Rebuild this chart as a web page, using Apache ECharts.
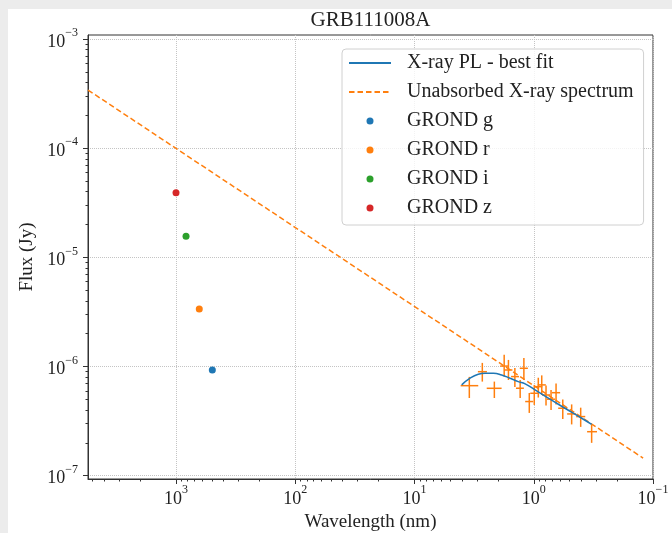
<!DOCTYPE html>
<html>
<head>
<meta charset="utf-8">
<script src="https://cdn.jsdelivr.net/npm/echarts@6/dist/echarts.min.js"></script>
<style>
  html, body { margin: 0; padding: 0; background: #ececec; }
  #chart { position: absolute; left: 8px; top: 9px; width: 664px; height: 524px; background: #fff; }
</style>
</head>
<body>
<div id="chart"></div>
<script>
// ---- data ----
// X-ray spectrum points (wavelength in nm, flux in Jy) with error ranges
const xrayWave   = [3.47, 2.70, 2.14, 1.77, 1.63, 1.44, 1.30, 1.21, 1.09, 0.99, 0.916, 0.857, 0.789, 0.716, 0.650, 0.571, 0.481, 0.404, 0.327];
const xrayWaveLo = [2.92, 2.47, 1.86, 1.63, 1.51, 1.33, 1.21, 1.12, 1.01, 0.914, 0.847, 0.792, 0.730, 0.662, 0.601, 0.524, 0.441, 0.370, 0.295];
const xrayWaveHi = [4.10, 2.94, 2.48, 1.91, 1.77, 1.55, 1.41, 1.31, 1.18, 1.07, 0.991, 0.927, 0.853, 0.774, 0.703, 0.624, 0.525, 0.441, 0.357];
const xrayFlux   = [6.68e-7, 8.97e-7, 6.32e-7, 1.01e-6, 9.30e-7, 8.09e-7, 6.33e-7, 9.64e-7, 4.78e-7, 5.69e-7, 6.54e-7, 6.79e-7, 5.49e-7, 5.02e-7, 5.76e-7, 4.15e-7, 3.68e-7, 3.48e-7, 2.53e-7];
const xrayFluxLo = [5.15e-7, 7.28e-7, 5.15e-7, 8.09e-7, 7.53e-7, 6.50e-7, 5.15e-7, 7.53e-7, 3.76e-7, 4.45e-7, 5.20e-7, 5.50e-7, 4.40e-7, 4.00e-7, 4.50e-7, 3.30e-7, 2.95e-7, 2.80e-7, 2.00e-7];
const xrayFluxHi = [8.04e-7, 1.08e-6, 7.28e-7, 1.28e-6, 1.15e-6, 9.70e-7, 7.53e-7, 1.20e-6, 5.73e-7, 6.79e-7, 7.90e-7, 8.30e-7, 6.70e-7, 6.10e-7, 7.00e-7, 5.00e-7, 4.50e-7, 4.20e-7, 2.92e-7];

// absorbed power law best fit (blue curve)
const fitWave = [4.02, 3.42, 2.92, 2.56, 2.18, 1.86, 1.58, 1.35, 1.18, 0.975, 0.755, 0.547, 0.396, 0.327];
const fitFlux = [6.79e-7, 7.82e-7, 8.50e-7, 8.68e-7, 8.68e-7, 8.38e-7, 7.82e-7, 7.28e-7, 6.93e-7, 6.11e-7, 5.13e-7, 4.15e-7, 3.36e-7, 2.95e-7];

// unabsorbed spectrum (straight in log-log, two end points)
const pwlWave = [5470, 0.121];
const pwlFlux = [3.41e-4, 1.45e-7];

// GROND photometry
const grondBands = ['g', 'r', 'i', 'z'];
const grondWave  = [496, 638, 824, 1000];
const grondFlux  = [9.31e-7, 3.37e-6, 1.56e-5, 3.91e-5];
const grondColors = ['#1f77b4', '#ff7f0e', '#2ca02c', '#d62728'];

// axes
const xMin = 0.1, xMax = 5470;
const yMin = 9.33e-8, yMax = 1.089e-3;
const xMajor = [0.1, 1, 10, 100, 1000];
const yMajor = [1e-7, 1e-6, 1e-5, 1e-4, 1e-3];

function minorTicks(lo, hi) {
  const out = [];
  for (let e = Math.floor(Math.log10(lo)); e <= Math.ceil(Math.log10(hi)); e++) {
    for (let m = 2; m <= 9; m++) {
      const v = m * Math.pow(10, e);
      if (v > lo && v < hi) out.push(v);
    }
  }
  return out;
}

const FONT = "'Liberation Serif', 'DejaVu Serif', serif";
const TXT = '#222';

function sup(v) {
  const e = Math.round(Math.log10(v));
  return '{b|10}{e|' + (e < 0 ? '\u2212' + (-e) : e) + '}';
}
const supRich = {
  b: { fontSize: 18, fontFamily: FONT, color: TXT, lineHeight: 24, verticalAlign: 'bottom' },
  e: { fontSize: 12, fontFamily: FONT, color: TXT, lineHeight: 14, verticalAlign: 'top' }
};

const chart = echarts.init(document.getElementById('chart'));

const series = [
  {
    name: 'X-ray data',
    type: 'custom',
    z: 3,
    data: xrayWave.map((w, i) => [w, xrayFlux[i], xrayWaveLo[i], xrayWaveHi[i], xrayFluxLo[i], xrayFluxHi[i]]),
    renderItem: function (params, api) {
      const p1 = api.coord([api.value(2), api.value(1)]);
      const p2 = api.coord([api.value(3), api.value(1)]);
      const p3 = api.coord([api.value(0), api.value(4)]);
      const p4 = api.coord([api.value(0), api.value(5)]);
      const style = { stroke: '#ff7f0e', lineWidth: 1.5 };
      return {
        type: 'group',
        children: [
          { type: 'line', shape: { x1: p1[0], y1: p1[1], x2: p2[0], y2: p2[1] }, style: style },
          { type: 'line', shape: { x1: p3[0], y1: p3[1], x2: p4[0], y2: p4[1] }, style: style }
        ]
      };
    }
  },
  {
    name: 'X-ray PL - best fit',
    type: 'line',
    z: 4,
    symbol: 'none',
    smooth: true,
    data: fitWave.map((w, i) => [w, fitFlux[i]]),
    lineStyle: { color: '#1f77b4', width: 1.5 },
    itemStyle: { color: '#1f77b4' }
  },
  {
    name: 'Unabsorbed X-ray spectrum',
    type: 'line',
    z: 2,
    symbol: 'none',
    data: pwlWave.map((w, i) => [w, pwlFlux[i]]),
    lineStyle: { color: '#ff7f0e', width: 1.5, type: [5.5, 3] },
    itemStyle: { color: '#ff7f0e' }
  }
];
grondBands.forEach((b, i) => {
  series.push({
    name: 'GROND ' + b,
    type: 'scatter',
    z: 5,
    symbolSize: 7,
    data: [[grondWave[i], grondFlux[i]]],
    itemStyle: { color: grondColors[i], opacity: 1 }
  });
});

// line entries in the legend: hide the dot ECharts puts on the line icon
const noDot = { color: 'rgba(0,0,0,0)', borderWidth: 0, opacity: 0 };

chart.setOption({
  animation: false,
  title: {
    text: 'GRB111008A',
    left: 362.5,
    top: 1,
    padding: 0,
    textAlign: 'center',
    textStyle: { fontFamily: FONT, fontSize: 21, fontWeight: 'normal', color: TXT }
  },
  legend: {
    data: [
      { name: 'X-ray PL - best fit', itemStyle: noDot },
      { name: 'Unabsorbed X-ray spectrum', itemStyle: noDot },
      'GROND g', 'GROND r', 'GROND i', 'GROND z'
    ],
    orient: 'vertical',
    left: 334,
    top: 40,
    padding: [4, 10, 7, 6],
    itemGap: 9,
    itemWidth: 42,
    itemHeight: 7,
    selectedMode: false,
    backgroundColor: 'rgba(255,255,255,0.8)',
    borderColor: '#d0d0d0',
    borderWidth: 1,
    borderRadius: 4,
    textStyle: { fontFamily: FONT, fontSize: 20, color: TXT, padding: [0, 0, 0, 11] }
  },
  grid: {
    left: 80, right: 19, top: 26, bottom: 54,
    outerBoundsMode: 'none',
    show: true, borderColor: '#333', borderWidth: 1, backgroundColor: 'transparent'
  },
  xAxis: [
    {
      type: 'log', logBase: 10, inverse: true, min: xMin, max: xMax,
      name: 'Wavelength (nm)', nameLocation: 'middle', nameGap: 27,
      nameTextStyle: { fontFamily: FONT, fontSize: 19, color: TXT },
      axisLine: { show: true, lineStyle: { color: '#333', width: 1 } },
      axisTick: { show: true, inside: false, length: 5, customValues: xMajor, lineStyle: { color: '#333' } },
      axisLabel: { customValues: xMajor, margin: 5, formatter: sup, rich: supRich },
      splitLine: { show: true, lineStyle: { color: '#c4c4c4', type: 'dotted', width: 1 } }
    },
    {
      type: 'log', logBase: 10, inverse: true, min: xMin, max: xMax, position: 'bottom', offset: 0,
      axisLine: { show: false },
      axisTick: { show: true, inside: false, length: 2.5, customValues: minorTicks(xMin, xMax), lineStyle: { color: '#333' } },
      axisLabel: { show: false },
      splitLine: { show: false }
    }
  ],
  yAxis: [
    {
      type: 'log', logBase: 10, min: yMin, max: yMax,
      name: 'Flux (Jy)', nameLocation: 'middle', nameGap: 50,
      nameTextStyle: { fontFamily: FONT, fontSize: 19, color: TXT },
      axisLine: { show: true, lineStyle: { color: '#333', width: 1 } },
      axisTick: { show: true, inside: false, length: 5, customValues: yMajor, lineStyle: { color: '#333' } },
      axisLabel: { customValues: yMajor, margin: 10, formatter: sup, rich: supRich },
      splitLine: { show: true, lineStyle: { color: '#c4c4c4', type: 'dotted', width: 1 } }
    },
    {
      type: 'log', logBase: 10, min: yMin, max: yMax, position: 'left', offset: 0,
      axisLine: { show: false },
      axisTick: { show: true, inside: false, length: 2.5, customValues: minorTicks(yMin, yMax), lineStyle: { color: '#333' } },
      axisLabel: { show: false },
      splitLine: { show: false }
    }
  ],
  series: series
});
</script>
</body>
</html>
